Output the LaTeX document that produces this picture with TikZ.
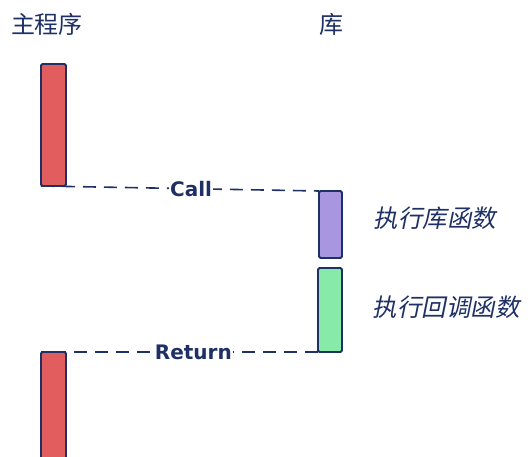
\documentclass[tikz,border=0pt]{standalone}
\usepackage{fontspec}
\newfontfamily\cjk{Noto Sans CJK SC}
\newfontfamily\cjkit[FakeSlant=0.2]{Noto Sans CJK SC}
\newfontfamily\lab{DejaVu Sans}
\definecolor{ink}{RGB}{30,48,100}
\definecolor{redf}{RGB}{226,94,94}
\definecolor{purf}{RGB}{168,150,224}
\definecolor{grnf}{RGB}{136,234,168}
\tikzset{
  bar/.style={draw=ink, line width=1.8pt, rounded corners=1.5pt},
  msg/.style={draw=ink, line width=1.6pt, dash pattern=on 13pt off 8pt},
  msglabel/.style={fill=white, inner sep=1pt, text=ink, font=\lab\bfseries\fontsize{20}{22}\selectfont},
  title/.style={text=ink, font=\cjk\fontsize{24}{26}\selectfont},
  note/.style={text=ink, font=\cjkit\fontsize{24.5}{26}\selectfont, anchor=west}
}
\begin{document}
\begin{tikzpicture}[x=1pt,y=-1pt]
\useasboundingbox (0,0) rectangle (528,457);
\node[title] (t1) at (47,24) {主程序};
\node[title] (t2) at (331,24) {库};
% bars
\draw[bar, fill=redf] (41,64) rectangle (66,186);
\coordinate (callA) at (41,186);
\draw[bar, fill=purf] (319,191) rectangle (342,258);
\coordinate (callB) at (319,191);
\draw[bar, fill=grnf] (318,268) rectangle (342,352);
\coordinate (retA) at (318,352);
\draw[bar, fill=redf] (41,352) rectangle (66,470);
\coordinate (retB) at (41,352);
% messages
\draw[msg] (callA) -- node[msglabel, pos=0.54] (call) {Call} (callB);
\draw[msg] (retA) -- node[msglabel, pos=0.45] (ret) {Return} (retB);
% notes
\node[note] (n1) at (370,218) {执行库函数};
\node[note] (n2) at (369,307) {执行回调函数};
\end{tikzpicture}
\end{document}
